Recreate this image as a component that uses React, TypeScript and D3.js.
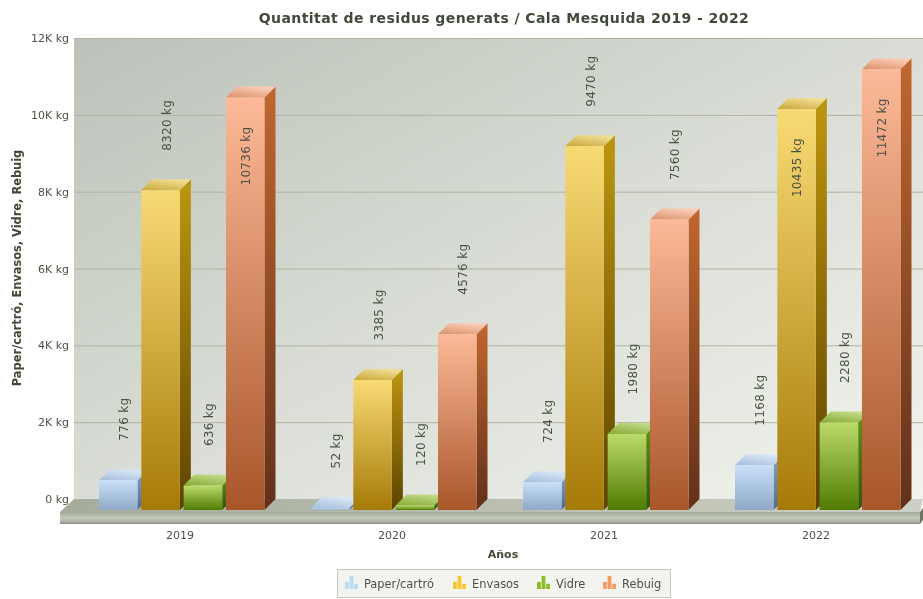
import React from "react";
import * as d3 from "d3";

const years = ["2019", "2020", "2021", "2022"];
const seriesNames = ["Paper/cartró", "Envasos", "Vidre", "Rebuig"];
const paper = [776, 52, 724, 1168];
const envasos = [8320, 3385, 9470, 10435];
const vidre = [636, 120, 1980, 2280];
const rebuig = [10736, 4576, 7560, 11472];
const seriesValues = [paper, envasos, vidre, rebuig];
const yTicks = [0, 2000, 4000, 6000, 8000, 10000, 12000];
const insideLimit = 10000;

const frontColors = [["#c8e0f8", "#8ea8c6"], ["#f8da74", "#a67a08"], ["#bcd96a", "#4f7c02"], ["#fdb998", "#a8562a"]];
const sideColors = [["#8aa3c4", "#4f6a90"], ["#bd960f", "#5e4300"], ["#639212", "#33540a"], ["#c2672f", "#62301a"]];
const topColors = [["#a5bedc", "#d8e7f5"], ["#c9a636", "#f0dd94"], ["#86aa30", "#c2da8a"], ["#dd9068", "#f8ccb6"]];
const legendIconColors = ["#b9dcf7", "#f5c62f", "#8dbb2c", "#f59a62"];
const legendX = [345, 453, 537, 603];
const iconBars = [0.55, 1, 0.4];

const W = 923, H = 599, depth = 11;
const ink = "#4b5244";
const inkBold = "#414a38";
const font = "'DejaVu Sans', sans-serif";

const x0 = d3.scaleBand<string>().domain(years).range([74, 922]);
const x1 = d3.scaleBand<string>().domain(seriesNames).range([-81, 84.5]).paddingInner(0.09);
const y = d3.scaleLinear().domain([0, 12000]).range([510, 49]);
const tickFmt = (v: number) => (v === 0 ? "0 kg" : `${v / 1000}K kg`);

export default function App() {
  const base = y(0);
  const bw = x1.bandwidth();
  const bars = years.flatMap((yr, i) =>
    seriesNames.map((s, k) => {
      const cx = x0(yr)! + x0.bandwidth() / 2;
      const x = cx + x1(s)!;
      return { key: yr + s, k, x, top: y(seriesValues[k][i]), v: seriesValues[k][i] };
    })
  );
  return (
    <svg width={W} height={H} style={{ position: "absolute", left: 0, top: 0, filter: "blur(0.45px)" }} fontFamily={font}>
      <defs>
        <linearGradient id="bg" x1="0" y1="0" x2="1" y2="1">
          <stop offset="0" stopColor="#bcc2b9" />
          <stop offset="0.5" stopColor="#d9ddd5" />
          <stop offset="1" stopColor="#f2f3ee" />
        </linearGradient>
        <linearGradient id="floorTop" x1="0" y1="0" x2="1" y2="0">
          <stop offset="0" stopColor="#a6ac9c" />
          <stop offset="1" stopColor="#ccd0c4" />
        </linearGradient>
        <linearGradient id="floorFront" x1="0" y1="0" x2="0" y2="1">
          <stop offset="0" stopColor="#a2a899" />
          <stop offset="0.5" stopColor="#c4c8bb" />
          <stop offset="0.85" stopColor="#a9ad9f" />
          <stop offset="1" stopColor="#80857a" />
        </linearGradient>
        {seriesNames.map((_, k) => (
          <React.Fragment key={k}>
            <linearGradient id={`f${k}`} x1="0" y1="0" x2="0" y2="1">
              <stop offset="0" stopColor={frontColors[k][0]} />
              <stop offset="1" stopColor={frontColors[k][1]} />
            </linearGradient>
            <linearGradient id={`s${k}`} x1="0" y1="0" x2="0" y2="1">
              <stop offset="0" stopColor={sideColors[k][0]} />
              <stop offset="1" stopColor={sideColors[k][1]} />
            </linearGradient>
            <linearGradient id={`t${k}`} x1="0" y1="1" x2="0.6" y2="0">
              <stop offset="0" stopColor={topColors[k][0]} />
              <stop offset="1" stopColor={topColors[k][1]} />
            </linearGradient>
          </React.Fragment>
        ))}
      </defs>

      <rect width={W} height={H} fill="#fff" />
      <text x={504} y={23} textAnchor="middle" fontSize={14} fontWeight="bold" fill={inkBold} letterSpacing={0.43}>
        Quantitat de residus generats / Cala Mesquida 2019 - 2022
      </text>

      <rect x={74} y={y(12000) - depth} width={W - 74} height={y(0) - y(12000)} fill="url(#bg)" />
      {yTicks.slice(1).map((t) => (
        <line key={t} x1={74} x2={W} y1={y(t) - depth + 0.5} y2={y(t) - depth + 0.5} stroke="#afb3a0" />
      ))}
      {yTicks.map((t) => (
        <text key={t} x={69} y={y(t) - depth + 4} textAnchor="end" fontSize={11} fill={ink}>{tickFmt(t)}</text>
      ))}

      <polygon points={`74,${base - depth} ${W},${base - depth} ${W - 3},${base + 2} 60,${base + 2}`} fill="url(#floorTop)" />
      <rect x={60} y={base + 2} width={860} height={12} fill="url(#floorFront)" />
      <polygon points={`920,${base + 2} ${W},${base - 2} ${W},${base + 10} 920,${base + 14}`} fill="#6f7465" />

      {bars.map((b) => (
        <g key={b.key}>
          <polygon points={`${b.x + bw},${b.top} ${b.x + bw + depth},${b.top - depth} ${b.x + bw + depth},${base - depth} ${b.x + bw},${base}`} fill={`url(#s${b.k})`} />
          <polygon points={`${b.x},${b.top} ${b.x + depth},${b.top - depth} ${b.x + bw + depth},${b.top - depth} ${b.x + bw},${b.top}`} fill={`url(#t${b.k})`} />
          <rect x={b.x} y={b.top} width={bw} height={base - b.top} fill={`url(#f${b.k})`} />
        </g>
      ))}

      {bars.map((b) => {
        const inside = b.v > insideLimit;
        const lx = b.x + bw / 2 + (inside ? 4.5 : 10);
        const ly = inside ? b.top + 29 : b.top - 39.5;
        return (
          <text key={b.key} transform={`translate(${lx},${ly}) rotate(-90)`} textAnchor={inside ? "end" : "start"} fontSize={12} fill={ink} letterSpacing={0.3}>
            {b.v} kg
          </text>
        );
      })}

      {years.map((yr) => (
        <text key={yr} x={x0(yr)! + x0.bandwidth() / 2} y={539} textAnchor="middle" fontSize={11} fill={ink}>{yr}</text>
      ))}
      <text x={503} y={558} textAnchor="middle" fontSize={11} fontWeight="bold" fill={inkBold}>Años</text>
      <text transform="translate(21,268) rotate(-90)" textAnchor="middle" fontSize={11.4} fontWeight="bold" fill={inkBold}>
        Paper/cartró, Envasos, Vidre, Rebuig
      </text>

      <rect x={337.5} y={569.5} width={333} height={28} fill="#f3f4f0" stroke="#c6c8c2" />
      {seriesNames.map((s, k) => (
        <g key={s}>
          {iconBars.map((h, j) => (
            <rect key={j} x={legendX[k] + j * 4.6} y={589 - h * 13} width={3.8} height={h * 13} fill={legendIconColors[k]} />
          ))}
          <text x={legendX[k] + 19} y={588} fontSize={11.4} fill={ink}>{s}</text>
        </g>
      ))}
    </svg>
  );
}
